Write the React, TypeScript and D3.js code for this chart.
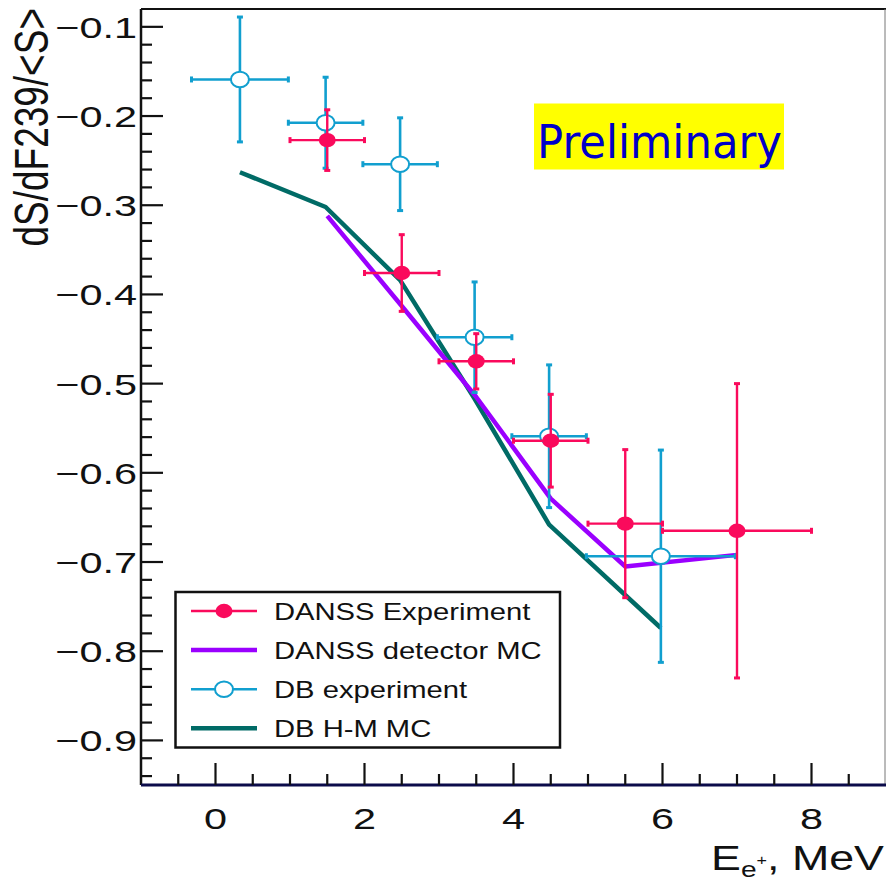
import React from "react";
import * as d3 from "d3";

// DANSS experiment: positron energy bins (MeV), relative slope and error
const danssEnergy = [1.5, 2.5, 3.5, 4.5, 5.5, 7.0];
const danssLow = [1, 2, 3, 4, 5, 6];
const danssHigh = [2, 3, 4, 5, 6, 8];
const danssValue = [-0.227, -0.376, -0.475, -0.564, -0.657, -0.665];
const danssError = [0.034, 0.043, 0.031, 0.052, 0.083, 0.165];

// DANSS detector Monte Carlo
const danssMcEnergy = [1.5, 2.5, 3.5, 4.5, 5.5, 7.0];
const danssMcValue = [-0.312, -0.413, -0.515, -0.629, -0.705, -0.692];

// Daya Bay experiment (prompt energy bins shifted to positron energy)
const dbEnergy = [0.328, 1.478, 2.478, 3.478, 4.478, 5.978];
const dbLow = [-0.322, 0.978, 1.978, 2.978, 3.978, 4.978];
const dbHigh = [0.978, 1.978, 2.978, 3.978, 4.978, 6.978];
const dbValue = [-0.159, -0.2075, -0.254, -0.448, -0.559, -0.6935];
const dbError = [0.07, 0.051, 0.052, 0.062, 0.08, 0.119];

// Daya Bay Huber-Mueller model
const dbHmEnergy = [0.328, 1.478, 2.478, 3.478, 4.478, 5.978];
const dbHmValue = [-0.263, -0.302, -0.384, -0.517, -0.658, -0.774];

// axis ticks
const xMajorTicks = [0, 2, 4, 6, 8];
const yMajorTicks = [-0.1, -0.2, -0.3, -0.4, -0.5, -0.6, -0.7, -0.8, -0.9];

const legendLabels = ["DANSS Experiment", "DANSS detector MC", "DB experiment", "DB H-M MC"];

const RED = "#fa0a5c";
const PURPLE = "#9a00ff";
const CYAN = "#119fcf";
const TEAL = "#006b66";
const FONT = "'Liberation Sans', Arial, Helvetica, sans-serif";

const W = 886;
const H = 882;
const left = 141;
const right = 886;
const top = 9;
const bottom = 785;

const x = d3.scaleLinear().domain([-1, 9]).range([left, right]);
const y = d3.scaleLinear().domain([-0.95, -0.08]).range([bottom, top]);

const fmtTick = (v: number) => "\u2212" + Math.abs(v).toFixed(1);

function Stretch({ x0, y0, sx, anchor, size, children }: any) {
  return (
    <g transform={`translate(${x0},${y0}) scale(${sx},1)`}>
      <text x={0} y={0} fontSize={size} fontFamily={FONT} textAnchor={anchor} fill="#111">
        {children}
      </text>
    </g>
  );
}

function ErrorPoints({ cx, lo, hi, val, err, color, width, cap, filled }: any) {
  return (
    <g>
      {cx.map((c: number, i: number) => {
        const px = x(c);
        const py = y(val[i]);
        const x1 = x(lo[i]);
        const x2 = x(hi[i]);
        const y1 = y(val[i] + err[i]);
        const y2 = y(val[i] - err[i]);
        return (
          <g key={i} stroke={color} strokeWidth={width} fill="none">
            <line x1={x1} x2={x2} y1={py} y2={py} />
            <line x1={px} x2={px} y1={y1} y2={y2} />
            <line x1={x1} x2={x1} y1={py - cap} y2={py + cap} strokeWidth={3} />
            <line x1={x2} x2={x2} y1={py - cap} y2={py + cap} strokeWidth={3} />
            <line x1={px - cap} x2={px + cap} y1={y1} y2={y1} strokeWidth={3} />
            <line x1={px - cap} x2={px + cap} y1={y2} y2={y2} strokeWidth={3} />
            {filled ? (
              <ellipse cx={px} cy={py} rx={8.5} ry={7.2} fill={color} stroke="none" />
            ) : (
              <ellipse cx={px} cy={py} rx={9} ry={7.8} fill="#fff" stroke={color} strokeWidth={2} />
            )}
          </g>
        );
      })}
    </g>
  );
}

export default function App() {
  const line = d3
    .line<[number, number]>()
    .x((d) => x(d[0]))
    .y((d) => y(d[1]));

  const danssMcPath = line(danssMcEnergy.map((e, i) => [e, danssMcValue[i]]) as [number, number][]);
  const dbHmPath = line(dbHmEnergy.map((e, i) => [e, dbHmValue[i]]) as [number, number][]);

  const xMinor = d3.range(-0.5, 9, 0.5).filter((v) => Math.abs(v / 2 - Math.round(v / 2)) > 1e-6);
  const yMinor = d3.range(-0.94, -0.08, 0.02).map((v) => +v.toFixed(2)).filter(
    (v) => Math.abs(v * 10 - Math.round(v * 10)) > 1e-6
  );

  const legendRows = [611, 650, 689.3, 728.3];
  const legendX1 = 191;
  const legendX2 = 257;
  const legendMid = (legendX1 + legendX2) / 2;

  return (
    <svg
      width={W}
      height={H}
      viewBox={`0 0 ${W} ${H}`}
      style={{ position: "absolute", left: 0, top: 0, background: "#fff" }}
    >
      <rect x={0} y={0} width={W} height={H} fill="#fff" />

      {/* Preliminary label */}
      <rect x={534} y={103.5} width={250} height={66} fill="#ffff00" />
      <text
        x={537}
        y={158}
        fontSize={47}
        fontFamily="'DejaVu Sans', sans-serif"
        fill="#0000c8"
        textLength={245}
        lengthAdjust="spacingAndGlyphs"
      >
        Preliminary
      </text>

      {/* model curves */}
      <path d={dbHmPath || ""} fill="none" stroke={TEAL} strokeWidth={4.5} strokeLinejoin="round" />
      <path d={danssMcPath || ""} fill="none" stroke={PURPLE} strokeWidth={4.5} strokeLinejoin="round" />

      {/* measurements */}
      <ErrorPoints cx={dbEnergy} lo={dbLow} hi={dbHigh} val={dbValue} err={dbError} color={CYAN} width={2.6} cap={3} filled={false} />
      <ErrorPoints cx={danssEnergy} lo={danssLow} hi={danssHigh} val={danssValue} err={danssError} color={RED} width={2.4} cap={3} filled={true} />

      {/* frame */}
      <line x1={left} x2={right} y1={top} y2={top} stroke="#111" strokeWidth={2} />
      <line x1={885} x2={885} y1={top} y2={bottom} stroke="#777" strokeWidth={1} />
      <line x1={left} x2={left} y1={top} y2={bottom} stroke="#111" strokeWidth={2.5} />
      <line x1={left} x2={W} y1={bottom} y2={bottom} stroke="#0b0b4a" strokeWidth={3} />

      {/* y ticks */}
      {yMajorTicks.map((v) => (
        <g key={"ym" + v}>
          <line x1={left} x2={left + 22} y1={y(v)} y2={y(v)} stroke="#111" strokeWidth={2.2} />
          <Stretch x0={137} y0={y(v) + 11} sx={1.38} anchor="end" size={30}>
            {fmtTick(v)}
          </Stretch>
        </g>
      ))}
      {yMinor.map((v) => (
        <line key={"yn" + v} x1={left} x2={left + 11} y1={y(v)} y2={y(v)} stroke="#111" strokeWidth={2.2} />
      ))}

      {/* x ticks */}
      {xMajorTicks.map((v) => (
        <g key={"xm" + v}>
          <line x1={x(v)} x2={x(v)} y1={bottom} y2={bottom - 22} stroke="#111" strokeWidth={2.2} />
          <Stretch x0={x(v)} y0={829} sx={1.38} anchor="middle" size={30}>
            {String(v)}
          </Stretch>
        </g>
      ))}
      {xMinor.map((v) => (
        <line key={"xn" + v} x1={x(v)} x2={x(v)} y1={bottom} y2={bottom - 11} stroke="#111" strokeWidth={2.2} />
      ))}

      {/* axis titles */}
      <g transform="translate(48,8) rotate(-90) scale(1,1.32)">
        <text x={0} y={0} fontSize={37} fontFamily={FONT} textAnchor="end" fill="#111">
          dS/dF239/&lt;S&gt;
        </text>
      </g>
      <g transform="translate(884,870) scale(1.28,1)">
        <text x={0} y={0} fontSize={35} fontFamily={FONT} textAnchor="end" fill="#111">
          E
          <tspan fontSize={22} dy={7}>e</tspan>
          <tspan fontSize={14} dy={-12}>+</tspan>
          <tspan fontSize={35} dy={5}>, MeV</tspan>
        </text>
      </g>

      {/* legend */}
      <rect x={175.5} y={592} width={384.5} height={155.5} fill="#fff" stroke="#111" strokeWidth={2.5} />
      <line x1={legendX1} x2={legendX2} y1={legendRows[0]} y2={legendRows[0]} stroke={RED} strokeWidth={2.4} />
      <ellipse cx={legendMid} cy={legendRows[0]} rx={8.5} ry={7.2} fill={RED} />
      <line x1={legendX1} x2={legendX2} y1={legendRows[1]} y2={legendRows[1]} stroke={PURPLE} strokeWidth={4.5} />
      <line x1={legendX1} x2={legendX2} y1={legendRows[2]} y2={legendRows[2]} stroke={CYAN} strokeWidth={2.6} />
      <ellipse cx={legendMid} cy={legendRows[2]} rx={9} ry={7.8} fill="#fff" stroke={CYAN} strokeWidth={2} />
      <line x1={legendX1} x2={legendX2} y1={legendRows[3]} y2={legendRows[3]} stroke={TEAL} strokeWidth={4.5} />
      {legendLabels.map((label, i) => (
        <Stretch key={label} x0={274} y0={legendRows[i] + 9} sx={1.27} anchor="start" size={23}>
          {label}
        </Stretch>
      ))}
    </svg>
  );
}
